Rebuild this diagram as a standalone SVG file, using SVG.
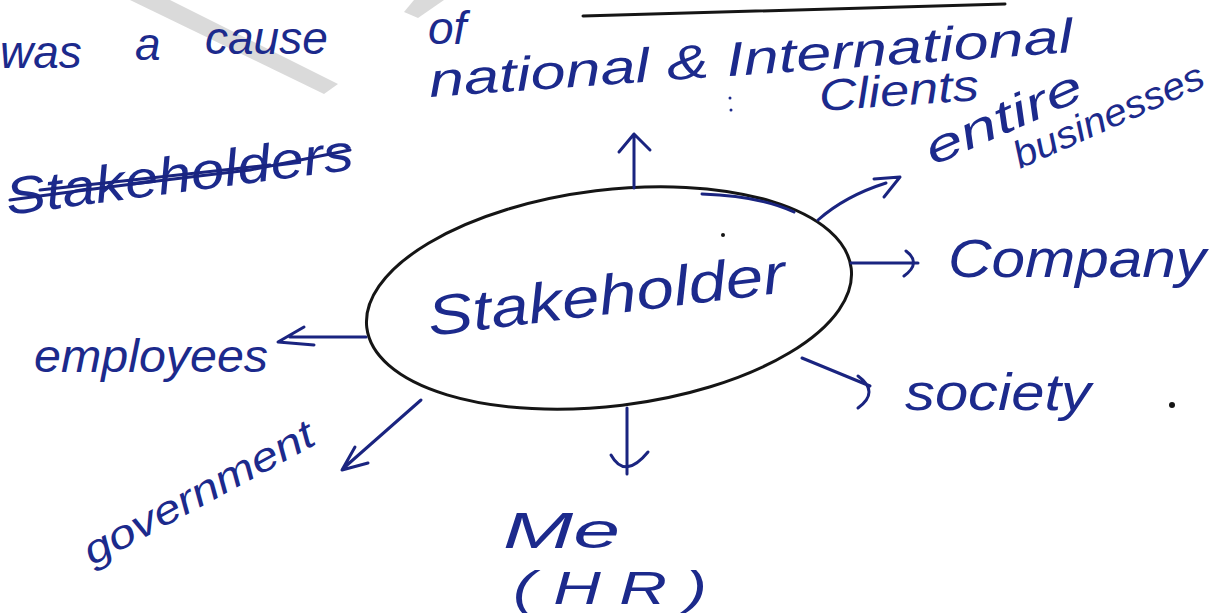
<svg xmlns="http://www.w3.org/2000/svg" width="1221" height="613" viewBox="0 0 1221 613">
<defs>
<style>
.ink{fill:#1c2a8c;font-family:"Liberation Sans",Arial,sans-serif;font-style:italic;}
.line{stroke:#1a2480;stroke-width:3;fill:none;stroke-linecap:round;stroke-linejoin:round;}
.blk{stroke:#151515;stroke-width:3;fill:none;stroke-linecap:round;}
</style>
</defs>
<rect width="1221" height="613" fill="#fff"/>
<g id="watermark" fill="#dadada">
<polygon points="130,0 170,0 338,84 324,94"/>
<polygon points="414,0 444,0 418,18 404,12"/>
</g>
<g id="header">
<text class="ink" font-size="46"><tspan x="0" y="68">was</tspan><tspan x="135" y="60">a</tspan><tspan x="205" y="54">cause</tspan><tspan x="428" y="44">of</tspan></text>
<line class="blk" x1="583" y1="16" x2="1005" y2="4"/>
</g>
<g id="crossed">
<text class="ink" x="8" y="215" font-size="52" textLength="350" lengthAdjust="spacingAndGlyphs" transform="rotate(-7.5 8 215)">Stakeholders</text>
<path class="line" d="M10 200 Q120 185 250 170 Q300 160 350 150"/>
<path class="line" d="M40 190 Q150 178 270 165"/>
</g>
<g id="center">
<ellipse cx="609" cy="298" rx="244" ry="108" transform="rotate(-7 609 298)" fill="none" stroke="#151515" stroke-width="3"/>
<text class="ink" x="430" y="336" font-size="56" textLength="360" lengthAdjust="spacingAndGlyphs" transform="rotate(-7 430 336)">Stakeholder</text>
<circle cx="723" cy="235" r="2" fill="#151515"/>
</g>
<g id="connectors">
<path class="line" d="M634 188 V134 M619 152 L634 134 L650 150"/>
<path class="line" d="M702 194 Q760 196 794 212"/>
<path class="line" d="M818 220 Q845 196 886 183 M874 179 L900 177 L884 197"/>
<path class="line" d="M851 263 H918 M906 251 Q922 263 904 276"/>
<path class="line" d="M802 358 L870 386 M858 376 Q880 392 858 408"/>
<path class="line" d="M627 408 V474 M611 455 Q625 480 648 452"/>
<path class="line" d="M366 337 H290 M304 327 L278 342 L314 345"/>
<path class="line" d="M421 400 L346 466 M355 447 L342 470 L368 463"/>
</g>
<g id="n-national">
<text class="ink" x="430" y="97" font-size="48" textLength="645" lengthAdjust="spacingAndGlyphs" transform="rotate(-4 430 97)">national &amp; International</text>
<text class="ink" x="820" y="111" font-size="44" textLength="160" lengthAdjust="spacingAndGlyphs" transform="rotate(-4 820 111)">Clients</text>
<circle cx="730" cy="98" r="1.5" fill="#1c2a8c"/>
<circle cx="731" cy="110" r="1.5" fill="#1c2a8c"/>
</g>
<g id="n-entire">
<text class="ink" x="933" y="166" font-size="46" textLength="168" lengthAdjust="spacingAndGlyphs" transform="rotate(-24 933 166)">entire</text>
<text class="ink" x="1020" y="169" font-size="38" textLength="205" lengthAdjust="spacingAndGlyphs" transform="rotate(-24 1020 169)">businesses</text>
</g>
<g id="n-company">
<text class="ink" x="948" y="277" font-size="54" textLength="258" lengthAdjust="spacingAndGlyphs">Company</text>
</g>
<g id="n-society">
<text class="ink" x="905" y="410" font-size="52" textLength="186" lengthAdjust="spacingAndGlyphs">society</text>
<circle cx="1172" cy="405" r="3" fill="#151515"/>
</g>
<g id="n-employees">
<text class="ink" x="34" y="372" font-size="46" textLength="234" lengthAdjust="spacingAndGlyphs">employees</text>
</g>
<g id="n-government">
<text class="ink" x="92" y="566" font-size="40" textLength="257" lengthAdjust="spacingAndGlyphs" transform="rotate(-28.5 92 566)">government</text>
</g>
<g id="n-me">
<text class="ink" x="503" y="548" font-size="50" textLength="117" lengthAdjust="spacingAndGlyphs">Me</text>
<text class="ink" x="513" y="604" font-size="46" textLength="194" lengthAdjust="spacingAndGlyphs">( H R )</text>
</g>
</svg>
